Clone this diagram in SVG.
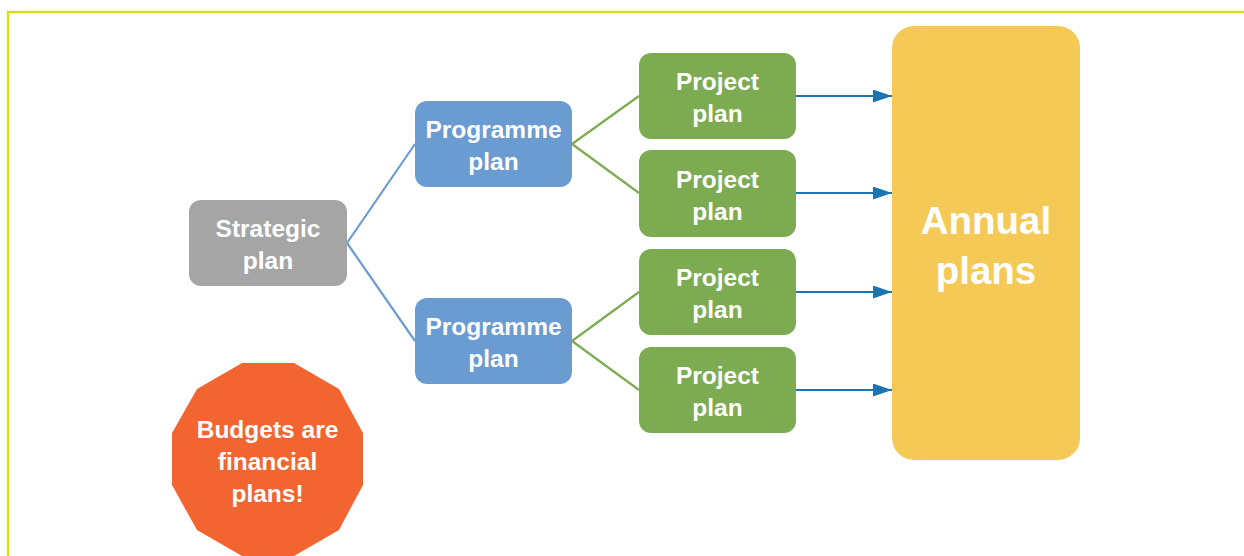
<svg xmlns="http://www.w3.org/2000/svg" width="1244" height="556" viewBox="0 0 1244 556">
  <style>
    .lbl { font-family: "Liberation Sans", Arial, sans-serif; font-weight: bold; fill: #ffffff; text-anchor: middle; font-size: 24.5px; }
    .big { font-size: 38.5px; }
    .blue { stroke: #6a9bd1; stroke-width: 2.2; fill: none; }
    .green { stroke: #7dab52; stroke-width: 2.2; fill: none; }
    .arrow { stroke: #1a75b0; stroke-width: 2.2; fill: none; marker-end: url(#ah); }
  </style>
  <defs>
    <marker id="ah" markerWidth="19" markerHeight="13" refX="19" refY="6.5" orient="auto" markerUnits="userSpaceOnUse">
      <path d="M0,0 L19,6.5 L0,13 Z" fill="#1a75b0"/>
    </marker>
  </defs>
  <rect width="1244" height="556" fill="#ffffff"/>
  <g id="frame">
    <polyline points="8,556 8,12 1244,12" fill="none" stroke="#d5e021" stroke-width="2.5"/>
  </g>
  <g id="connectors">
    <line class="blue" x1="347" y1="243" x2="415" y2="144"/>
    <line class="blue" x1="347" y1="243" x2="415" y2="341"/>
    <line class="green" x1="572" y1="144" x2="639" y2="96"/>
    <line class="green" x1="572" y1="144" x2="639" y2="193"/>
    <line class="green" x1="572" y1="341" x2="639" y2="292"/>
    <line class="green" x1="572" y1="341" x2="639" y2="390"/>
    <line class="arrow" x1="796" y1="96" x2="892" y2="96"/>
    <line class="arrow" x1="796" y1="193" x2="892" y2="193"/>
    <line class="arrow" x1="796" y1="292" x2="892" y2="292"/>
    <line class="arrow" x1="796" y1="390" x2="892" y2="390"/>
  </g>
  <g id="strategic">
    <rect x="189" y="200" width="158" height="86" rx="12" fill="#a5a5a5"/>
    <text class="lbl" x="268" y="237">Strategic</text>
    <text class="lbl" x="268" y="269">plan</text>
  </g>
  <g id="programme1">
    <rect x="415" y="101" width="157" height="86" rx="12" fill="#6a9bd1"/>
    <text class="lbl" x="493.5" y="138">Programme</text>
    <text class="lbl" x="493.5" y="170">plan</text>
  </g>
  <g id="programme2">
    <rect x="415" y="298" width="157" height="86" rx="12" fill="#6a9bd1"/>
    <text class="lbl" x="493.5" y="335">Programme</text>
    <text class="lbl" x="493.5" y="367">plan</text>
  </g>
  <g id="project1">
    <rect x="639" y="53" width="157" height="86" rx="12" fill="#7dab52"/>
    <text class="lbl" x="717.5" y="90">Project</text>
    <text class="lbl" x="717.5" y="122">plan</text>
  </g>
  <g id="project2">
    <rect x="639" y="150" width="157" height="87" rx="12" fill="#7dab52"/>
    <text class="lbl" x="717.5" y="188">Project</text>
    <text class="lbl" x="717.5" y="220">plan</text>
  </g>
  <g id="project3">
    <rect x="639" y="249" width="157" height="86" rx="12" fill="#7dab52"/>
    <text class="lbl" x="717.5" y="286">Project</text>
    <text class="lbl" x="717.5" y="318">plan</text>
  </g>
  <g id="project4">
    <rect x="639" y="347" width="157" height="86" rx="12" fill="#7dab52"/>
    <text class="lbl" x="717.5" y="384">Project</text>
    <text class="lbl" x="717.5" y="416">plan</text>
  </g>
  <g id="annual">
    <rect x="892" y="26" width="188" height="434" rx="22" fill="#f5c956"/>
    <text class="lbl big" x="986" y="234">Annual</text>
    <text class="lbl big" x="986" y="284">plans</text>
  </g>
  <g id="budgets">
    <polygon points="242,363 294,363 339,389 363,433 363,485 339,530 294,556 242,556 197,530 172,485 172,433 197,389" fill="#f26531"/>
    <text class="lbl" x="267.5" y="438">Budgets are</text>
    <text class="lbl" x="267.5" y="470">financial</text>
    <text class="lbl" x="267.5" y="502">plans!</text>
  </g>
</svg>
